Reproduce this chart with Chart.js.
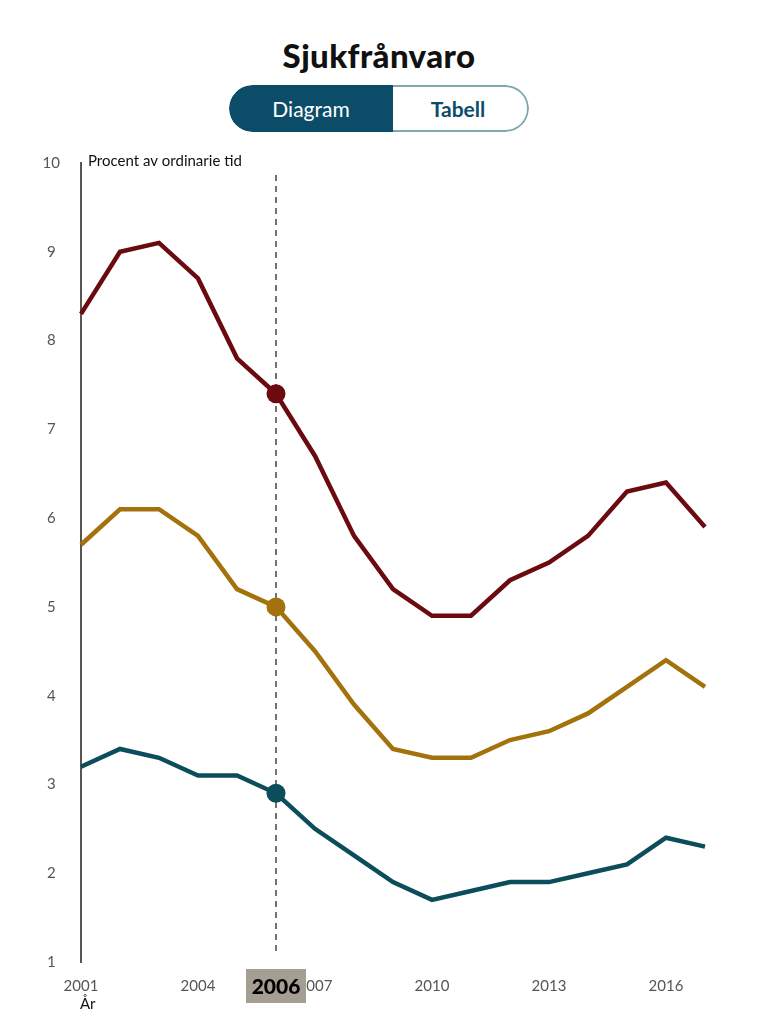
<!DOCTYPE html>
<html lang="sv">
<head>
<meta charset="utf-8">
<title>Sjukfrånvaro</title>
<script src="https://cdn.jsdelivr.net/npm/chart.js@4.4.1/dist/chart.umd.min.js"></script>
<style>
  body { margin: 0; background: #fff; font-family: Lato, "Open Sans", sans-serif; }
  #page { position: relative; width: 758px; height: 1024px; overflow: hidden; }
  h1 { position: absolute; top: 35px; left: 0; width: 758px; margin: 0; text-align: center;
       font-size: 33px; font-weight: 900; color: #111; letter-spacing: 0.4px; }
  #toggle { position: absolute; top: 85px; left: 229px; width: 300px; height: 47px; display: flex;
            border-radius: 24px; overflow: hidden; box-sizing: border-box; }
  #toggle div { display: flex; align-items: center; justify-content: center; font-size: 21px; box-sizing: border-box; }
  #btn-diagram { width: 164px; background: #0b4d69; color: #fff; border-radius: 24px 0 0 24px; }
  #btn-tabell { width: 136px; background: #fff; color: #0b4d69; font-weight: 700; border: 2px solid #80a9ad;
                border-left: none; border-radius: 0 24px 24px 0; padding-right: 4px; }
  #chart-wrap { position: absolute; top: 133px; left: 0; width: 758px; height: 891px; }
</style>
</head>
<body>
<div id="page">
  <h1>Sjukfrånvaro</h1>
  <div id="toggle"><div id="btn-diagram">Diagram</div><div id="btn-tabell">Tabell</div></div>
  <div id="chart-wrap"><canvas id="sjuk-chart" width="758" height="891"></canvas></div>
</div>
<script>
// År och värden (procent av ordinarie tid)
const years = ['2001', '2002', '2003', '2004', '2005', '2006', '2007', '2008', '2009',
               '2010', '2011', '2012', '2013', '2014', '2015', '2016', '2017'];
const kvinnor = [8.3, 9.0, 9.1, 8.7, 7.8, 7.4, 6.7, 5.8, 5.2, 4.9, 4.9, 5.3, 5.5, 5.8, 6.3, 6.4, 5.9];
const totalt  = [5.7, 6.1, 6.1, 5.8, 5.2, 5.0, 4.5, 3.9, 3.4, 3.3, 3.3, 3.5, 3.6, 3.8, 4.1, 4.4, 4.1];
const man     = [3.2, 3.4, 3.3, 3.1, 3.1, 2.9, 2.5, 2.2, 1.9, 1.7, 1.8, 1.9, 1.9, 2.0, 2.1, 2.4, 2.3];
const valtAr = '2006';

const selIndex = years.indexOf(valtAr);
const radii = years.map((y, i) => i === selIndex ? 9.5 : 0);

function serie(label, values, color) {
    return {
        label: label,
        data: values,
        borderColor: color,
        backgroundColor: color,
        borderWidth: 4.5,
        tension: 0,
        pointRadius: radii,
        pointHoverRadius: radii,
        pointBackgroundColor: color,
        pointBorderWidth: 0
    };
}

// Plugin för streckad linje, markerat år och axeltexter
const markerPlugin = {
    id: 'markerPlugin',
    beforeDatasetsDraw(chart) {
        const ctx = chart.ctx;
        const area = chart.chartArea;
        const x = chart.scales.x.getPixelForValue(selIndex);
        ctx.save();
        ctx.strokeStyle = '#444';
        ctx.lineWidth = 1.5;
        ctx.setLineDash([6, 5]);
        ctx.beginPath();
        ctx.moveTo(x, area.top + 12);
        ctx.lineTo(x, area.bottom - 6);
        ctx.stroke();
        ctx.restore();
    },
    afterDraw(chart) {
        const ctx = chart.ctx;
        const area = chart.chartArea;
        const x = chart.scales.x.getPixelForValue(selIndex);
        ctx.save();
        // enhetstext
        ctx.fillStyle = '#111';
        ctx.font = '15px Lato, sans-serif';
        ctx.textAlign = 'left';
        ctx.textBaseline = 'middle';
        ctx.fillText('Procent av ordinarie tid', area.left + 7, area.top - 2);
        ctx.fillText('År', area.left - 1, area.bottom + 42);
        // markerat år
        ctx.fillStyle = '#a59e93';
        ctx.fillRect(x - 30, area.bottom + 7, 60, 34);
        ctx.fillStyle = '#000';
        ctx.font = '900 21px Lato, sans-serif';
        ctx.textAlign = 'center';
        ctx.fillText(valtAr, x, area.bottom + 25);
        ctx.restore();
    }
};

const ctx = document.getElementById('sjuk-chart').getContext('2d');
new Chart(ctx, {
    type: 'line',
    data: {
        labels: years,
        datasets: [
            serie('Kvinnor', kvinnor, '#6b0b0f'),
            serie('Totalt', totalt, '#a3720c'),
            serie('Män', man, '#0c4d5b')
        ]
    },
    options: {
        responsive: false,
        animation: false,
        layout: { padding: { top: 14, right: 53, left: 0, bottom: 0 } },
        plugins: {
            legend: { display: false },
            tooltip: { enabled: false }
        },
        scales: {
            x: {
                offset: false,
                grid: { display: false, drawTicks: false },
                border: { display: false },
                ticks: {
                    autoSkip: false,
                    maxRotation: 0,
                    padding: 15,
                    color: '#555',
                    font: { family: 'Lato', size: 15 },
                    callback: (val, i) => (i % 3 === 0 ? years[i] : '')
                },
                afterFit: (scale) => { scale.height = 62; }
            },
            y: {
                min: 1,
                max: 10,
                grid: { display: false, drawTicks: false },
                border: { display: true, color: '#5b5550', width: 2 },
                ticks: {
                    stepSize: 1,
                    padding: 21,
                    crossAlign: 'center',
                    color: '#555',
                    font: { family: 'Lato', size: 15 }
                },
                afterFit: (scale) => { scale.width = 81; }
            }
        }
    },
    plugins: [markerPlugin]
});
</script>
</body>
</html>
